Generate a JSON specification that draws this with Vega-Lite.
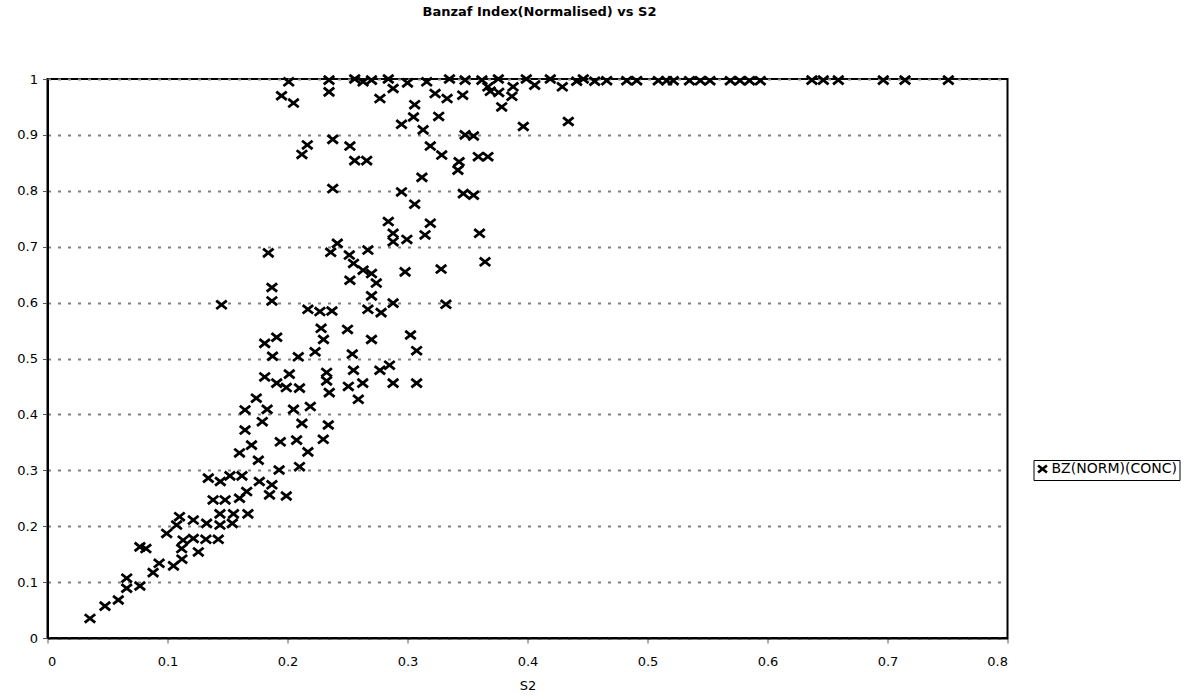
{
  "$schema": "https://vega.github.io/schema/vega-lite/v6.json",
  "width": 960,
  "height": 559,
  "autosize": {"type": "none"},
  "padding": {"left": 47.5, "top": 79, "right": 185.5, "bottom": 61},
  "background": "white",
  "title": {
    "text": "Banzaf Index(Normalised) vs S2",
    "font": "DejaVu Sans",
    "fontSize": 13,
    "fontWeight": "bold",
    "color": "black",
    "anchor": "middle",
    "frame": "group",
    "dx": 12,
    "baseline": "alphabetic",
    "offset": 40
  },
  "config": {
    "view": {"stroke": "black", "strokeWidth": 2},
    "axis": {
      "labelFont": "DejaVu Sans",
      "labelFontSize": 13,
      "labelColor": "black",
      "titleFont": "DejaVu Sans",
      "titleFontSize": 13,
      "titleFontWeight": "normal",
      "titleColor": "black",
      "domainColor": "black",
      "domainWidth": 2,
      "tickColor": "#555555",
      "tickSize": 5,
      "tickWidth": 1,
      "format": "~g"
    }
  },
  "data": {
    "values": [
      {"s2": 0.201, "bz": 0.995}, {"s2": 0.2346, "bz": 0.998}, {"s2": 0.256, "bz": 1.0}, {"s2": 0.263, "bz": 0.995},
      {"s2": 0.27, "bz": 0.998}, {"s2": 0.284, "bz": 1.0}, {"s2": 0.3, "bz": 0.993}, {"s2": 0.316, "bz": 0.995},
      {"s2": 0.335, "bz": 1.0}, {"s2": 0.348, "bz": 0.998}, {"s2": 0.362, "bz": 0.998}, {"s2": 0.3757, "bz": 1.0},
      {"s2": 0.399, "bz": 1.0}, {"s2": 0.419, "bz": 1.0}, {"s2": 0.441, "bz": 0.996}, {"s2": 0.4465, "bz": 1.0},
      {"s2": 0.456, "bz": 0.996}, {"s2": 0.466, "bz": 0.997}, {"s2": 0.4827, "bz": 0.997}, {"s2": 0.491, "bz": 0.997},
      {"s2": 0.509, "bz": 0.997}, {"s2": 0.516, "bz": 0.997}, {"s2": 0.5215, "bz": 0.997}, {"s2": 0.535, "bz": 0.997},
      {"s2": 0.544, "bz": 0.997}, {"s2": 0.552, "bz": 0.997}, {"s2": 0.569, "bz": 0.997}, {"s2": 0.577, "bz": 0.997},
      {"s2": 0.585, "bz": 0.997}, {"s2": 0.594, "bz": 0.997}, {"s2": 0.637, "bz": 0.998}, {"s2": 0.6465, "bz": 0.998},
      {"s2": 0.659, "bz": 0.998}, {"s2": 0.6965, "bz": 0.998}, {"s2": 0.7146, "bz": 0.998}, {"s2": 0.7507, "bz": 0.998},
      {"s2": 0.195, "bz": 0.97}, {"s2": 0.205, "bz": 0.957}, {"s2": 0.2346, "bz": 0.977}, {"s2": 0.277, "bz": 0.965},
      {"s2": 0.288, "bz": 0.983}, {"s2": 0.306, "bz": 0.954}, {"s2": 0.323, "bz": 0.974}, {"s2": 0.333, "bz": 0.965},
      {"s2": 0.346, "bz": 0.971}, {"s2": 0.367, "bz": 0.986}, {"s2": 0.369, "bz": 0.978}, {"s2": 0.376, "bz": 0.976},
      {"s2": 0.3785, "bz": 0.95}, {"s2": 0.387, "bz": 0.969}, {"s2": 0.388, "bz": 0.986}, {"s2": 0.406, "bz": 0.989},
      {"s2": 0.429, "bz": 0.986}, {"s2": 0.305, "bz": 0.932}, {"s2": 0.295, "bz": 0.919}, {"s2": 0.313, "bz": 0.909},
      {"s2": 0.326, "bz": 0.933}, {"s2": 0.348, "bz": 0.9}, {"s2": 0.355, "bz": 0.898}, {"s2": 0.3965, "bz": 0.915},
      {"s2": 0.434, "bz": 0.924}, {"s2": 0.212, "bz": 0.865}, {"s2": 0.2165, "bz": 0.882}, {"s2": 0.2377, "bz": 0.892},
      {"s2": 0.252, "bz": 0.88}, {"s2": 0.256, "bz": 0.854}, {"s2": 0.266, "bz": 0.854}, {"s2": 0.319, "bz": 0.88},
      {"s2": 0.3285, "bz": 0.864}, {"s2": 0.343, "bz": 0.852}, {"s2": 0.342, "bz": 0.837}, {"s2": 0.359, "bz": 0.861},
      {"s2": 0.367, "bz": 0.861}, {"s2": 0.2377, "bz": 0.804}, {"s2": 0.312, "bz": 0.824}, {"s2": 0.295, "bz": 0.798},
      {"s2": 0.306, "bz": 0.776}, {"s2": 0.3465, "bz": 0.795}, {"s2": 0.355, "bz": 0.792}, {"s2": 0.284, "bz": 0.745},
      {"s2": 0.288, "bz": 0.724}, {"s2": 0.2995, "bz": 0.713}, {"s2": 0.3146, "bz": 0.721}, {"s2": 0.319, "bz": 0.742},
      {"s2": 0.36, "bz": 0.724}, {"s2": 0.288, "bz": 0.709}, {"s2": 0.184, "bz": 0.689}, {"s2": 0.236, "bz": 0.69},
      {"s2": 0.2415, "bz": 0.706}, {"s2": 0.2515, "bz": 0.685}, {"s2": 0.267, "bz": 0.694}, {"s2": 0.3646, "bz": 0.673},
      {"s2": 0.328, "bz": 0.66}, {"s2": 0.332, "bz": 0.597}, {"s2": 0.255, "bz": 0.67}, {"s2": 0.252, "bz": 0.64},
      {"s2": 0.27, "bz": 0.652}, {"s2": 0.274, "bz": 0.635}, {"s2": 0.263, "bz": 0.658}, {"s2": 0.298, "bz": 0.655},
      {"s2": 0.187, "bz": 0.627}, {"s2": 0.187, "bz": 0.603}, {"s2": 0.145, "bz": 0.596}, {"s2": 0.217, "bz": 0.588},
      {"s2": 0.227, "bz": 0.584}, {"s2": 0.237, "bz": 0.585}, {"s2": 0.27, "bz": 0.612}, {"s2": 0.267, "bz": 0.588},
      {"s2": 0.278, "bz": 0.582}, {"s2": 0.288, "bz": 0.599}, {"s2": 0.228, "bz": 0.554}, {"s2": 0.23, "bz": 0.534},
      {"s2": 0.25, "bz": 0.552}, {"s2": 0.27, "bz": 0.534}, {"s2": 0.3025, "bz": 0.542}, {"s2": 0.3076, "bz": 0.514},
      {"s2": 0.181, "bz": 0.527}, {"s2": 0.191, "bz": 0.538}, {"s2": 0.1875, "bz": 0.504}, {"s2": 0.209, "bz": 0.503},
      {"s2": 0.223, "bz": 0.512}, {"s2": 0.254, "bz": 0.508}, {"s2": 0.255, "bz": 0.479}, {"s2": 0.277, "bz": 0.479},
      {"s2": 0.285, "bz": 0.488}, {"s2": 0.181, "bz": 0.467}, {"s2": 0.191, "bz": 0.456}, {"s2": 0.2015, "bz": 0.472},
      {"s2": 0.199, "bz": 0.448}, {"s2": 0.21, "bz": 0.447}, {"s2": 0.2326, "bz": 0.475}, {"s2": 0.2326, "bz": 0.46},
      {"s2": 0.2348, "bz": 0.439}, {"s2": 0.2507, "bz": 0.45}, {"s2": 0.2627, "bz": 0.456}, {"s2": 0.259, "bz": 0.427},
      {"s2": 0.288, "bz": 0.456}, {"s2": 0.3076, "bz": 0.456}, {"s2": 0.1646, "bz": 0.408}, {"s2": 0.174, "bz": 0.429},
      {"s2": 0.183, "bz": 0.409}, {"s2": 0.205, "bz": 0.409}, {"s2": 0.219, "bz": 0.414}, {"s2": 0.1646, "bz": 0.372},
      {"s2": 0.179, "bz": 0.387}, {"s2": 0.212, "bz": 0.384}, {"s2": 0.234, "bz": 0.381}, {"s2": 0.2298, "bz": 0.3555},
      {"s2": 0.194, "bz": 0.351}, {"s2": 0.2076, "bz": 0.354}, {"s2": 0.17, "bz": 0.345}, {"s2": 0.16, "bz": 0.331},
      {"s2": 0.217, "bz": 0.333}, {"s2": 0.21, "bz": 0.3065}, {"s2": 0.193, "bz": 0.3005}, {"s2": 0.1757, "bz": 0.318},
      {"s2": 0.187, "bz": 0.274}, {"s2": 0.199, "bz": 0.254}, {"s2": 0.185, "bz": 0.256}, {"s2": 0.166, "bz": 0.262},
      {"s2": 0.16, "bz": 0.25}, {"s2": 0.1765, "bz": 0.28}, {"s2": 0.152, "bz": 0.29}, {"s2": 0.144, "bz": 0.28},
      {"s2": 0.134, "bz": 0.286}, {"s2": 0.162, "bz": 0.29}, {"s2": 0.138, "bz": 0.247}, {"s2": 0.148, "bz": 0.247},
      {"s2": 0.1437, "bz": 0.222}, {"s2": 0.155, "bz": 0.222}, {"s2": 0.167, "bz": 0.222}, {"s2": 0.11, "bz": 0.217},
      {"s2": 0.1076, "bz": 0.202}, {"s2": 0.1215, "bz": 0.211}, {"s2": 0.1326, "bz": 0.205}, {"s2": 0.1437, "bz": 0.202},
      {"s2": 0.154, "bz": 0.205}, {"s2": 0.132, "bz": 0.1766}, {"s2": 0.1423, "bz": 0.1766}, {"s2": 0.1118, "bz": 0.16},
      {"s2": 0.1257, "bz": 0.154}, {"s2": 0.082, "bz": 0.16}, {"s2": 0.077, "bz": 0.163}, {"s2": 0.0993, "bz": 0.187},
      {"s2": 0.113, "bz": 0.175}, {"s2": 0.1215, "bz": 0.178}, {"s2": 0.112, "bz": 0.141}, {"s2": 0.093, "bz": 0.1336},
      {"s2": 0.105, "bz": 0.129}, {"s2": 0.088, "bz": 0.117}, {"s2": 0.077, "bz": 0.093}, {"s2": 0.066, "bz": 0.089},
      {"s2": 0.066, "bz": 0.107}, {"s2": 0.059, "bz": 0.068}, {"s2": 0.0479, "bz": 0.057}, {"s2": 0.0354, "bz": 0.035}
    ]
  },
  "mark": {
    "type": "point",
    "shape": "M-1,-0.8L1,0.8M-1,0.8L1,-0.8",
    "filled": false,
    "size": 110,
    "strokeWidth": 2.8,
    "opacity": 1
  },
  "encoding": {
    "x": {
      "field": "s2",
      "type": "quantitative",
      "title": "S2",
      "scale": {"domain": [0, 0.8], "nice": false, "zero": false},
      "axis": {
        "values": [0, 0.1, 0.2, 0.3, 0.4, 0.5, 0.6, 0.7, 0.8],
        "grid": false,
        "labelPadding": 12,
        "titlePadding": 11
      }
    },
    "y": {
      "field": "bz",
      "type": "quantitative",
      "title": null,
      "scale": {"domain": [0, 1], "nice": false},
      "axis": {
        "values": [0, 0.1, 0.2, 0.3, 0.4, 0.5, 0.6, 0.7, 0.8, 0.9, 1],
        "grid": true,
        "gridColor": "#808080",
        "gridWidth": 2,
        "gridDash": [3, 7],
        "labelPadding": 5
      }
    },
    "color": {
      "datum": "BZ(NORM)(CONC)",
      "type": "nominal",
      "scale": {"range": ["black"]},
      "legend": {
        "title": null,
        "orient": "none",
        "legendX": 986,
        "legendY": 381,
        "strokeColor": "black",
        "padding": 2,
        "labelFont": "DejaVu Sans",
        "labelFontSize": 14,
        "labelColor": "black",
        "labelOffset": 2,
        "symbolType": "M-1,-0.8L1,0.8M-1,0.8L1,-0.8",
        "symbolSize": 80,
        "symbolStrokeWidth": 2.5,
        "symbolStrokeColor": "black",
        "symbolOpacity": 1
      }
    }
  }
}
